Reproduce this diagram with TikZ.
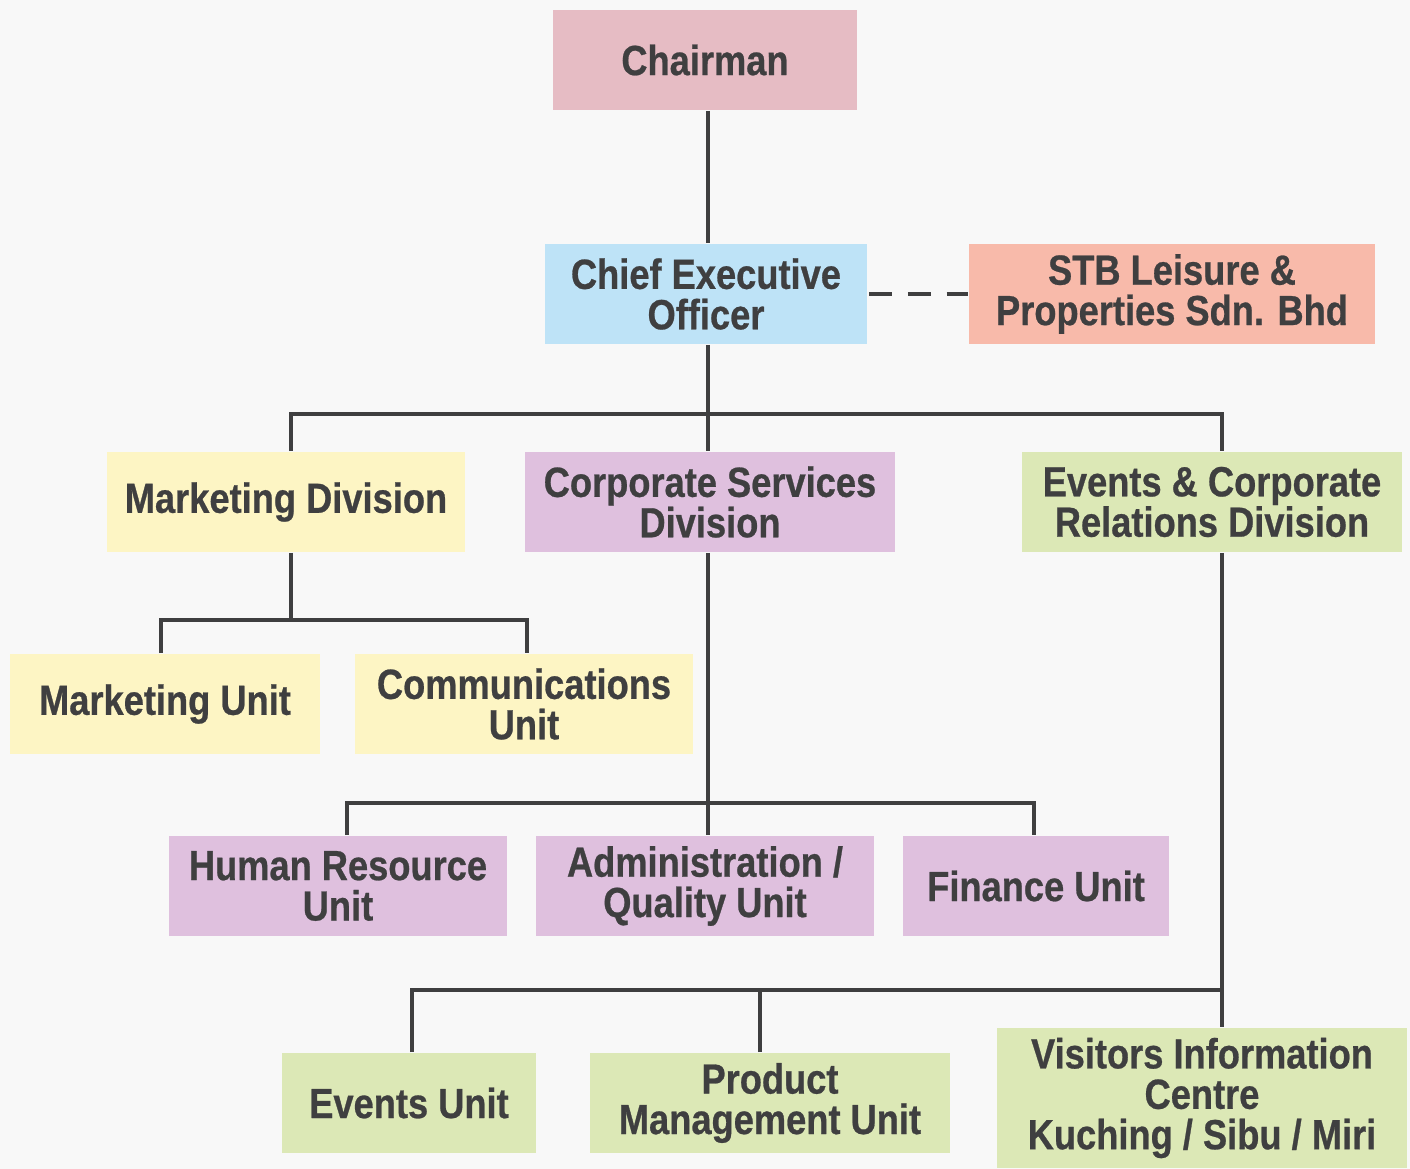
\documentclass[tikz,border=0pt]{standalone}
\usepackage{fontspec}
\setmainfont{Liberation Sans}[FakeStretch=0.86, FakeBold=0.6]
\definecolor{chairpink}{HTML}{E6BCC4}
\definecolor{ceoblue}{HTML}{BEE3F7}
\definecolor{stbsalmon}{HTML}{F8BAAA}
\definecolor{mktyellow}{HTML}{FDF5C4}
\definecolor{corplilac}{HTML}{DFC0DE}
\definecolor{evtgreen}{HTML}{DCE8B6}
\definecolor{inkgray}{HTML}{3F3F40}
\definecolor{paper}{HTML}{F8F8F8}
\tikzset{
	box/.style = {inner sep=0, minimum height=2.02cm, align=center, text=inkgray,
		font=\fontsize{24}{23}\selectfont\bfseries},
	link/.style = {draw=inkgray, line width=2.4pt},
}
\begin{document}
\begin{tikzpicture}[x=0.02cm, y=-0.02cm]
	\fill[paper] (0,0) rectangle (1410,1169);
	\useasboundingbox (0,0) rectangle (1410,1169);
	% top
	\node[box, fill=chairpink, minimum width=6.08cm] (chair) at (705,60) {Chairman};
	\node[box, fill=ceoblue, minimum width=6.44cm] (ceo) at (706,294) {Chief Executive\\Officer};
	\node[box, fill=stbsalmon, minimum width=8.14cm] (stb) at (1172,294) {STB Leisure \&\\Properties Sdn. Bhd};
	% divisions
	\node[box, fill=mktyellow, minimum width=7.16cm] (mkt) at (286,502) {Marketing Division};
	\node[box, fill=corplilac, minimum width=7.42cm] (corp) at (710,502) {Corporate Services\\Division};
	\node[box, fill=evtgreen, minimum width=7.62cm] (evt) at (1212,502) {Events \& Corporate\\Relations Division};
	% units
	\node[box, fill=mktyellow, minimum width=6.22cm] (mktu) at (165,704) {Marketing Unit};
	\node[box, fill=mktyellow, minimum width=6.78cm] (comu) at (524,704) {Communications\\Unit};
	\node[box, fill=corplilac, minimum width=6.76cm] (hru) at (338,886) {Human Resource\\Unit};
	\node[box, fill=corplilac, minimum width=6.76cm] (admu) at (705,886) {Administration /\\Quality Unit};
	\node[box, fill=corplilac, minimum width=5.34cm] (finu) at (1036,886) {Finance Unit};
	\node[box, fill=evtgreen, minimum width=5.10cm] (evtu) at (409,1103) {Events Unit};
	\node[box, fill=evtgreen, minimum width=7.22cm] (pmu) at (770,1103) {Product\\Management Unit};
	\node[box, fill=evtgreen, minimum width=8.20cm, minimum height=2.82cm] (vic) at (1202,1098) {Visitors Information\\Centre\\Kuching / Sibu / Miri};
	% connectors
	\coordinate (bus1) at (708,414);
	\coordinate (bus2) at (291,620);
	\coordinate (bus3) at (708,803);
	\coordinate (bus4) at (1222,990);
	\draw[link] (chair.south -| bus1) -- (ceo.north -| bus1);
	\draw[link, dash pattern=on 13pt off 9pt] (ceo.east) ++(2,0) -- (stb.west);
	\draw[link] (ceo.south -| bus1) -- (bus1);
	\draw[link] (mkt.north -| bus2) |- (bus1) -| (evt.north -| bus4);
	\draw[link] (bus1) -- (corp.north -| bus1);
	\draw[link] (mkt.south -| bus2) -- (bus2);
	\draw[link] (mktu.north -| 161,0) |- (bus2) -| (comu.north -| 527,0);
	\draw[link] (corp.south -| bus3) -- (bus3);
	\draw[link] (hru.north -| 347,0) |- (bus3) -| (finu.north -| 1034,0);
	\draw[link] (bus3) -- (admu.north -| bus3);
	\draw[link] (evt.south -| bus4) -- (vic.north -| bus4);
	\draw[link] (evtu.north -| 412,0) |- (bus4);
	\draw[link] (pmu.north -| 760,0) -- (bus4 -| 760,0);
\end{tikzpicture}
\end{document}
